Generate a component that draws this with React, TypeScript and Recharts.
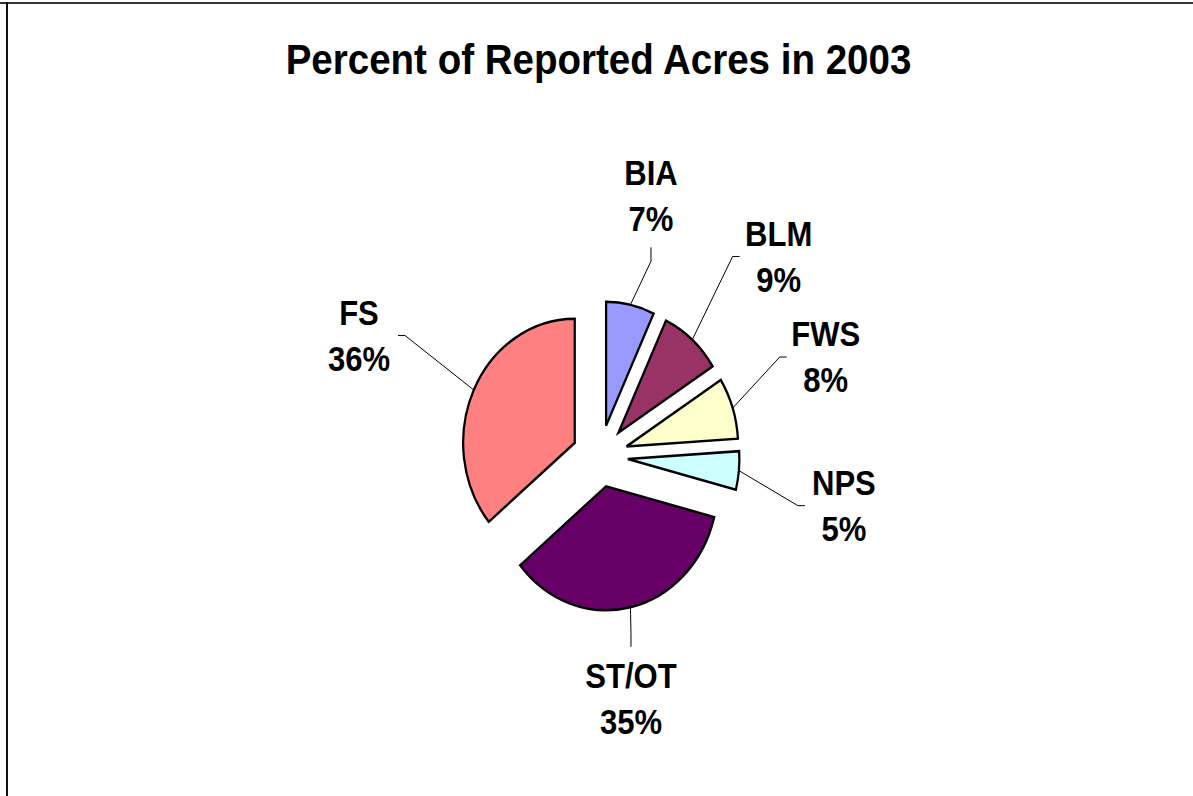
import React from 'react';
import { PieChart, Pie, Cell, Sector } from 'recharts';

const categories = ['BIA', 'BLM', 'FWS', 'NPS', 'ST/OT', 'FS'];
const shares = [7, 9, 8, 5, 35, 36];
const colors = ['#9999FF', '#993366', '#FFFFCC', '#CCFFFF', '#660066', '#FF8080'];
const title = 'Percent of Reported Acres in 2003';

const data = categories.map((name, i) => ({ name, value: shares[i] }));

// layout only: manual label nudges (the labels were dragged in the original)
const labelNudge: Record<string, [number, number]> = {
  BIA: [-4, -5],
  BLM: [12, -3],
  FWS: [-14, -18],
  NPS: [-7, 25],
  'ST/OT': [-24, -13],
  FS: [-13, -9],
};

const FONT = '"Liberation Sans", Arial, Helvetica, sans-serif';
const SX = 0.9; // horizontal squash of the original picture
const EXPLODE = 31;
const LRX = 252;
const LRY = 262;

const squash = (x: number) => `translate(${x} 0) scale(${SX} 1) translate(${-x} 0)`;

const ExplodedSlice = (props: any) => {
  const { cx, cy, midAngle } = props;
  const rad = (midAngle * Math.PI) / 180;
  const ox = EXPLODE * Math.cos(rad);
  const oy = -EXPLODE * Math.sin(rad);
  return (
    <g transform={squash(cx)}>
      <Sector {...props} cx={cx + ox} cy={cy + oy} />
    </g>
  );
};

const renderLabel = (props: any) => {
  const { cx, cy, midAngle, outerRadius, percent, name } = props;
  const rad = (midAngle * Math.PI) / 180;
  const ux = Math.cos(rad);
  const uy = -Math.sin(rad);
  const edgeR = outerRadius + EXPLODE;
  const ex = cx + SX * edgeR * ux;
  const ey = cy + edgeR * uy;
  const nudge = labelNudge[name] || [0, 0];
  const lx = cx + LRX * ux + nudge[0];
  const ly = cy + LRY * uy + nudge[1];
  const vertical = Math.abs(ux) < 0.5;
  let pts: number[][];
  if (vertical) {
    const sgn = uy < 0 ? 1 : -1;
    const y0 = ly + sgn * 52;
    const y1 = y0 + sgn * 14;
    pts = [[lx, y0], [lx, y1], [ex, ey]];
  } else {
    const sgn = ux > 0 ? -1 : 1;
    const x0 = lx + sgn * 39;
    const x1 = x0 + sgn * 7;
    pts = [[x0, ly], [x1, ly], [ex, ey]];
  }
  const pct = `${Math.round(percent * 100)}%`;
  const y1 = ly - 10.6;
  return (
    <g>
      <polyline points={pts.map((p) => p.join(',')).join(' ')} fill="none" stroke="#000" strokeWidth={1} />
      <g transform={squash(lx)}>
        <text textAnchor="middle" fontFamily={FONT} fontWeight="bold" fontSize={34.5} fill="#000">
          <tspan x={lx} y={y1}>{name}</tspan>
          <tspan x={lx} y={y1 + 46}>{pct}</tspan>
        </text>
      </g>
    </g>
  );
};

export default function App() {
  return (
    <div style={{ position: 'absolute', left: 0, top: 0, width: 1193, height: 796, overflow: 'hidden', background: '#fff' }}>
      <div style={{ position: 'absolute', left: 0, top: 2, width: 1193, height: 2, background: '#333' }} />
      <div style={{ position: 'absolute', left: 6, top: 2, width: 2, height: 794, background: '#111' }} />
      <svg width={1193} height={100} style={{ position: 'absolute', left: 0, top: 0 }}>
        <g transform={squash(598.5)}>
          <text x={598.5} y={74} textAnchor="middle" fontFamily={FONT} fontWeight="bold" fontSize={42.8} fill="#000">
            {title}
          </text>
        </g>
      </svg>
      <div style={{ position: 'absolute', left: 0, top: 0 }}>
        <PieChart width={1193} height={796} margin={{ top: 0, right: 0, bottom: 0, left: 0 }}>
          <Pie
            data={data}
            dataKey="value"
            nameKey="name"
            cx={600}
            cy={456}
            outerRadius={124}
            startAngle={90}
            endAngle={-270}
            stroke="#000"
            strokeWidth={2.5}
            isAnimationActive={false}
            labelLine={false}
            label={renderLabel}
            shape={ExplodedSlice}
          >
            {data.map((d, i) => (
              <Cell key={d.name} fill={colors[i]} />
            ))}
          </Pie>
        </PieChart>
      </div>
    </div>
  );
}
